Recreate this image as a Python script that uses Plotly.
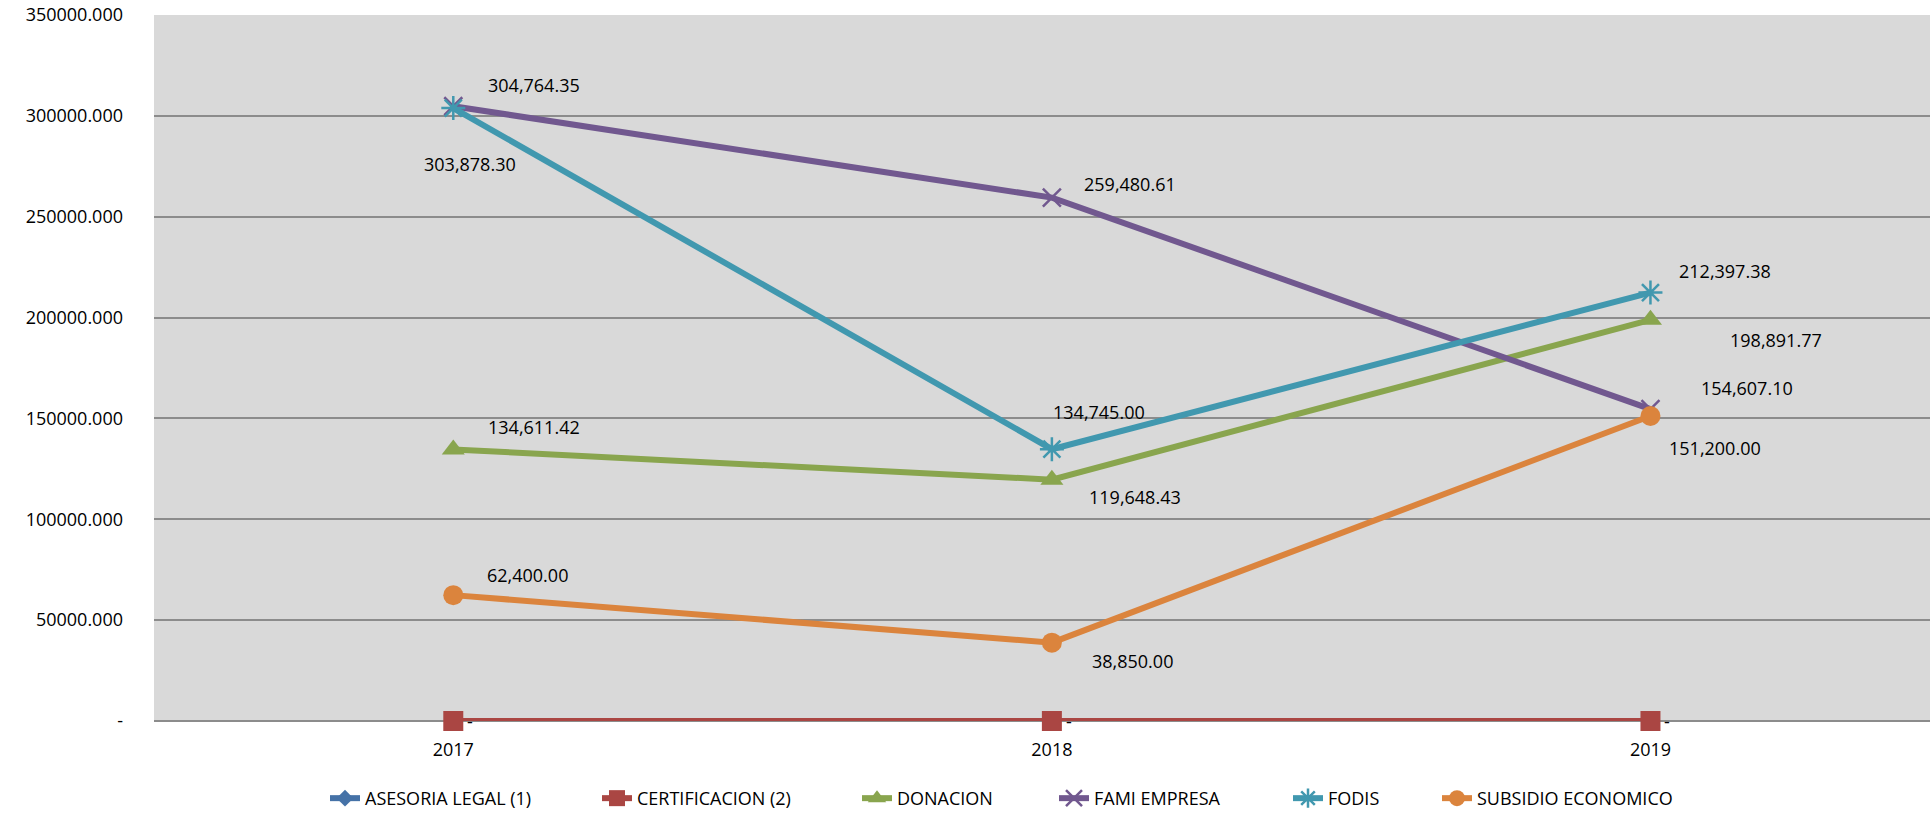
import plotly.graph_objects as go

years = ["2017", "2018", "2019"]
series_names = ["ASESORIA LEGAL (1)", "CERTIFICACION (2)", "DONACION",
                "FAMI EMPRESA", "FODIS", "SUBSIDIO ECONOMICO"]
asesoria = [0, 0, 0]
certificacion = [0, 0, 0]
donacion = [134611.42, 119648.43, 198891.77]
fami = [304764.35, 259480.61, 154607.10]
fodis = [303878.30, 134745.00, 212397.38]
subsidio = [62400.00, 38850.00, 151200.00]
y_tick_vals = [0, 50000, 100000, 150000, 200000, 250000, 300000, 350000]
y_tick_text = ["-", "50000.000", "100000.000", "150000.000", "200000.000",
               "250000.000", "300000.000", "350000.000"]

values = [asesoria, certificacion, donacion, fami, fodis, subsidio]

# styles
colors = ["#4572A7", "#AA4643", "#89A54E", "#71588F", "#4198AF", "#DB843D"]
symbols = ["diamond", "square", "triangle-up", "x-thin-open", "asterisk-open", "circle"]
msizes = [13, 20, 20, 18, 20, 20]
FONT = "Open Sans"
FS = 18
W, H = 1930, 817
ML, MR, MT, MB = 154, 0, 15, 91
PW, PH = W - ML - MR, H - MT - MB

# legend item origins (px from left) and vertical centre (px from top)
legend_px = [325, 597, 857, 1054, 1288, 1437]
legend_y_px = 804

# label offsets in px (dx, dy down) per series per point; None = no label
label_offsets = [
    None,
    [(17, 0), (17, 0), (17, 0)],
    [(81, -22), (83, 17), (126, 20)],
    [(81, -21), (78, -14), (97, -21)],
    [(17, 56), (47, -37), (75, -22)],
    [(74, -20), (81, 18), (65, 32)],
]

fig = go.Figure()
legend_layouts = {}
for k, (name, vals, c, s, ms) in enumerate(zip(series_names, values, colors, symbols, msizes)):
    open_sym = s.endswith("open")
    lg = "legend" if k == 0 else f"legend{k + 1}"
    fig.add_trace(go.Scatter(
        x=years, y=vals, name=name, mode="lines+markers",
        line=dict(color=c, width=6),
        marker=dict(symbol=s, size=ms, color=c,
                    line=dict(color=c, width=2.5 if open_sym else 0)),
        hoverinfo="skip", legend=lg, cliponaxis=False,
    ))
    legend_layouts[lg] = dict(
        orientation="h",
        x=(legend_px[k] - ML) / PW, y=-(legend_y_px - (H - MB)) / PH,
        xanchor="left", yanchor="middle",
        font=dict(family=FONT, size=FS, color="#000000"),
        bgcolor="rgba(0,0,0,0)", borderwidth=0,
    )

for vals, offs in zip(values, label_offsets):
    if offs is None:
        continue
    for i, (v, (dx, dy)) in enumerate(zip(vals, offs)):
        txt = "-" if v == 0 else f"{v:,.2f}"
        fig.add_annotation(
            x=i, y=v, xref="x", yref="y", text=txt, showarrow=False,
            xshift=dx, yshift=-dy,
            font=dict(family=FONT, size=FS, color="#000000"),
        )

fig.update_layout(
    width=W, height=H,
    margin=dict(l=ML, r=MR, t=MT, b=MB),
    paper_bgcolor="white", plot_bgcolor="#D9D9D9",
    font=dict(family=FONT, size=FS, color="#000000"),
    showlegend=True,
    **legend_layouts,
)
fig.update_xaxes(type="category", categoryorder="array", categoryarray=years,
                 range=[-0.5, 2.467], showgrid=False, zeroline=False,
                 showline=False, ticks="", ticklabelstandoff=16,
                 tickfont=dict(family=FONT, size=FS, color="#000000"))
fig.update_yaxes(range=[0, 350000], tickvals=y_tick_vals, ticktext=y_tick_text,
                 showgrid=True, gridcolor="#8C8C8C", gridwidth=2,
                 zeroline=True, zerolinecolor="#8C8C8C", zerolinewidth=2,
                 showline=False, ticks="", ticklabelstandoff=30,
                 tickfont=dict(family=FONT, size=FS, color="#000000"))

fig.write_html("out.html", config={"displayModeBar": False},
               post_script="document.body.style.margin='0';document.body.style.overflow='hidden';")
